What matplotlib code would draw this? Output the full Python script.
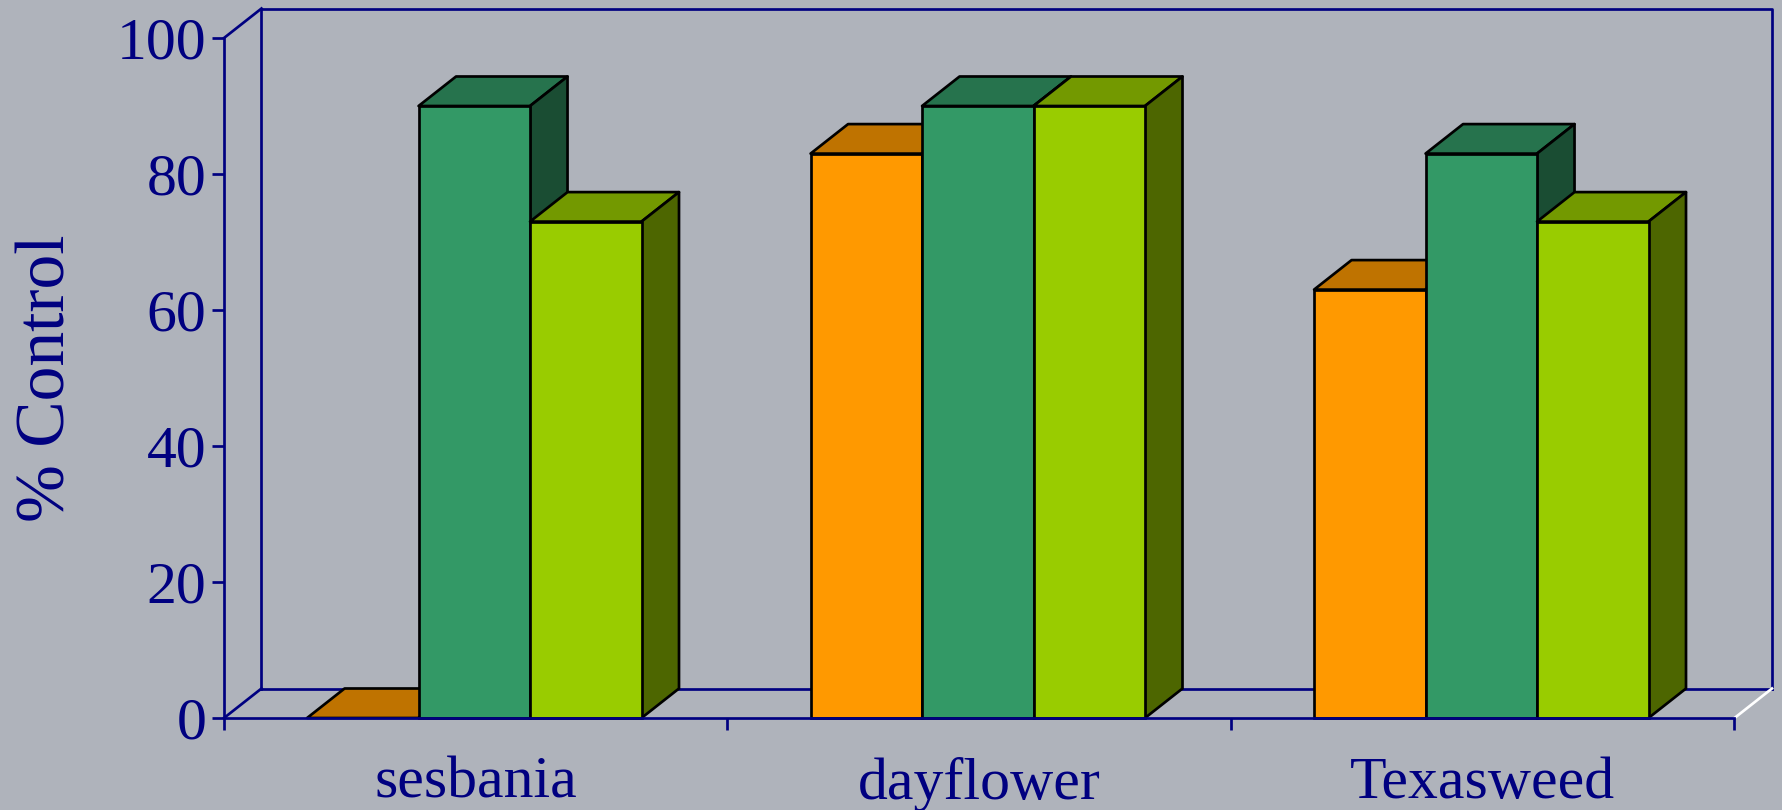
import numpy as np
from matplotlib import pyplot as plt
from matplotlib.patches import Polygon

categories = ['sesbania', 'dayflower', 'Texasweed']
orange_vals = [0, 83, 63]
green_vals = [90, 90, 83]
lime_vals = [73, 90, 73]
y_ticks = [0, 20, 40, 60, 80, 100]

NAVY = '#000080'
BG = '#AFB3BB'
# front, top, side
ORANGE = ('#FF9900', '#BF7300', '#804D00')
GREEN = ('#339966', '#26734D', '#1A4D33')
LIME = ('#99CC00', '#739900', '#4D6600')

plt.rcParams['font.family'] = ['Liberation Serif', 'DejaVu Serif']

W, H = 1783, 810
fig = plt.figure(figsize=(W / 100, H / 100), dpi=100, facecolor=BG)
# front plane of the fake 3d box, in pixels
left, right, bottom, top = 224, 1734.5, 718, 38
ax = fig.add_axes([left / W, 1 - bottom / H, (right - left) / W, (bottom - top) / H])
ax.set_facecolor('none')
ax.set_xlim(0, 3)
ax.set_ylim(0, 100)

# depth of the box in data units
dx = 37.5 / ((right - left) / 3)
dy = 29.5 / ((bottom - top) / 100)

lw = 2.7 * 72 / 100

# back walls and floor
ax.plot([dx, dx, 3 + dx, 3 + dx], [dy, 100 + dy, 100 + dy, dy], color=NAVY, lw=lw, clip_on=False, zorder=1)
ax.plot([dx, 3 + dx], [dy, dy], color=NAVY, lw=lw, clip_on=False, zorder=1)
ax.plot([0, dx], [0, dy], color=NAVY, lw=lw, clip_on=False, zorder=1)
ax.plot([0, dx], [100, 100 + dy], color=NAVY, lw=lw, clip_on=False, zorder=1)
ax.plot([3, 3 + dx], [0, dy], color='white', lw=lw, clip_on=False, zorder=1)

width = 0.2214
z = 2
for i in range(3):
    start = i + 0.5 - 0.335
    for j, (vals, cols) in enumerate([(orange_vals, ORANGE), (green_vals, GREEN), (lime_vals, LIME)]):
        x0 = start + j * width
        x1 = x0 + width
        v = vals[i]
        ax.add_patch(Polygon([(x0, v), (x1, v), (x1 + dx, v + dy), (x0 + dx, v + dy)], closed=True,
                             fc=cols[1], ec='black', lw=lw, joinstyle='round', clip_on=False, zorder=z))
        ax.add_patch(Polygon([(x1, 0), (x1 + dx, dy), (x1 + dx, v + dy), (x1, v)], closed=True,
                             fc=cols[2], ec='black', lw=lw, joinstyle='round', clip_on=False, zorder=z))
        if v > 0:
            ax.bar(x0, v, width, align='edge', color=cols[0], edgecolor='black', linewidth=lw,
                   clip_on=False, zorder=z + 0.5)
        z += 1

for s in ['top', 'right']:
    ax.spines[s].set_visible(False)
for s in ['left', 'bottom']:
    ax.spines[s].set_color(NAVY)
    ax.spines[s].set_linewidth(lw)
    ax.spines[s].set_zorder(100)

ax.set_yticks(y_ticks)
ax.set_xticks([0, 1, 2, 3])
ax.set_xticklabels([])
ax.set_xticks([0.5, 1.5, 2.5], minor=True)
ax.set_xticklabels(categories, minor=True)
ax.tick_params(axis='y', colors=NAVY, labelsize=43, length=8.6, width=lw, pad=4)
ax.tick_params(axis='x', which='major', color=NAVY, length=8.6, width=lw)
ax.tick_params(axis='x', which='minor', colors=NAVY, labelsize=43, length=0, pad=28)
ax.set_ylabel('% Control', color=NAVY, fontsize=50, labelpad=27)

fig.savefig('out.png', dpi=100, facecolor=BG)
